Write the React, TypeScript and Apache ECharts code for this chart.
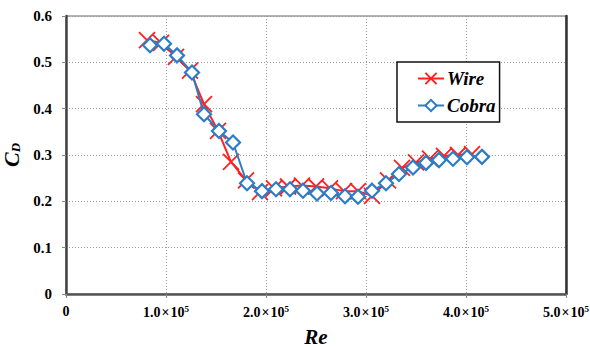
import React, { useEffect, useRef } from "react";
import * as echarts from "echarts";

const wireRe = [0.81, 0.95, 1.10, 1.24, 1.38, 1.52, 1.65, 1.80, 1.94, 2.08, 2.22, 2.36, 2.50, 2.64, 2.78, 2.92, 3.06, 3.22, 3.36, 3.50, 3.64, 3.78, 3.92, 4.06];
const wireCd = [0.548, 0.542, 0.512, 0.482, 0.410, 0.352, 0.285, 0.245, 0.220, 0.228, 0.232, 0.234, 0.232, 0.228, 0.222, 0.222, 0.212, 0.245, 0.272, 0.284, 0.292, 0.298, 0.300, 0.302];

const cobraRe = [0.84, 0.98, 1.11, 1.26, 1.38, 1.53, 1.67, 1.81, 1.96, 2.10, 2.24, 2.37, 2.51, 2.65, 2.79, 2.92, 3.06, 3.20, 3.33, 3.47, 3.60, 3.73, 3.87, 4.01, 4.16];
const cobraCd = [0.537, 0.540, 0.515, 0.478, 0.388, 0.352, 0.327, 0.239, 0.222, 0.226, 0.226, 0.223, 0.217, 0.218, 0.211, 0.210, 0.223, 0.239, 0.259, 0.273, 0.283, 0.289, 0.292, 0.295, 0.296];

const xTicks = [0, 1e5, 2e5, 3e5, 4e5, 5e5];
const yTicks = [0, 0.1, 0.2, 0.3, 0.4, 0.5, 0.6];

const FONT = "Liberation Serif";

export default function App() {
  const ref = useRef<HTMLDivElement>(null);
  useEffect(() => {
    const chart = echarts.init(ref.current!, null, { renderer: "svg" });
    const wireData = wireRe.map((r, i) => [r * 1e5, wireCd[i]]);
    const cobraData = cobraRe.map((r, i) => [r * 1e5, cobraCd[i]]);
    chart.setOption({
      animation: false,
      backgroundColor: "#fff",
      textStyle: { fontFamily: FONT },
      grid: {
        left: 66, right: 24, top: 16, bottom: 53,
        outerBoundsMode: "none",
        containLabel: false,
        show: true, borderColor: "#666", borderWidth: 1,
      },
      legend: {
        left: 397, top: 62, orient: "vertical",
        padding: [7, 4, 7, 20],
        itemGap: 8,
        itemWidth: 26, itemHeight: 14,
        borderColor: "#111", borderWidth: 1.5,
        backgroundColor: "#fff",
        textStyle: { fontFamily: FONT, fontWeight: "bold", fontStyle: "italic", fontSize: 19, color: "#000", padding: [0, 0, 0, -2] },
        data: ["Wire", "Cobra"],
      },
      xAxis: {
        type: "value", min: 0, max: 5e5, interval: 1e5,
        name: "Re", nameLocation: "middle", nameGap: 32,
        nameTextStyle: { fontFamily: FONT, fontWeight: "bold", fontStyle: "italic", fontSize: 21, color: "#000" },
        axisLine: { show: true, onZero: false, lineStyle: { color: "#555", width: 2.5 } },
        axisTick: { show: true, length: 4, lineStyle: { color: "#888" } },
        splitLine: { show: true, lineStyle: { color: "#999", type: [1, 2], width: 1 } },
        axisLabel: {
          margin: 10,
          fontFamily: FONT,
          formatter: (v: number) => {
            if (v === 0) return "{m|0}";
            const idx = xTicks.indexOf(v);
            if (idx < 0) return "";
            return `{m|${(v / 1e5).toFixed(1)}}{x|×}{m|10}{s|5}`;
          },
          rich: {
            m: { fontFamily: FONT, fontWeight: "bold", fontSize: 14, color: "#000" },
            x: { fontFamily: FONT, fontWeight: "bold", fontSize: 14, color: "#000", padding: [0, 1, 0, 1] },
            s: { fontFamily: FONT, fontWeight: "bold", fontSize: 9, color: "#000", verticalAlign: "top", padding: [0, 0, 7, 0] },
          },
        },
      },
      yAxis: [
        {
          type: "value", min: 0, max: 0.6, interval: 0.1,
          name: "{c|C}{d|D}", nameLocation: "middle", nameGap: 32, nameRotate: 90,
          nameTextStyle: {
            fontFamily: FONT,
            rich: {
              c: { fontFamily: FONT, fontWeight: "bold", fontStyle: "italic", fontSize: 22, color: "#000" },
              d: { fontFamily: FONT, fontWeight: "bold", fontStyle: "italic", fontSize: 13, color: "#000", verticalAlign: "bottom", padding: [8, 0, 0, 0] },
            },
          },
          axisLine: { show: true, lineStyle: { color: "#444", width: 2.5 } },
          axisTick: { show: true, length: 4, lineStyle: { color: "#888" } },
          splitLine: { show: true, lineStyle: { color: "#999", type: [1, 2], width: 1 } },
          axisLabel: {
            margin: 14,
            fontFamily: FONT, fontWeight: "bold", fontSize: 15, color: "#000",
            formatter: (v: number) => (v === 0 ? "0" : yTicks.includes(Math.round(v * 10) / 10) ? v.toFixed(1) : ""),
          },
        },
        {
          type: "value", min: 0, max: 0.6, interval: 0.1, position: "right",
          axisLine: { show: true, lineStyle: { color: "#333", width: 2.5 } },
          axisTick: { show: false }, axisLabel: { show: false }, splitLine: { show: false },
        },
      ],
      series: [
        {
          name: "Wire", type: "line", data: wireData,
          symbol: "path://M0,0L10,10M10,0L0,10",
          symbolSize: 16,
          lineStyle: { color: "#ff2020", width: 2 },
          itemStyle: { color: "#ff2020", borderColor: "#ff2020", borderWidth: 1.8 },
          z: 2,
        },
        {
          name: "Cobra", type: "line", data: cobraData,
          symbol: "diamond", symbolSize: 14,
          lineStyle: { color: "#2a7dc6", width: 2 },
          itemStyle: { color: "#fff", borderColor: "#2a7dc6", borderWidth: 2.2 },
          z: 3,
        },
      ],
    });
    return () => chart.dispose();
  }, []);
  return <div ref={ref} style={{ width: 590, height: 347, position: "absolute", left: 0, top: 0 }} />;
}
